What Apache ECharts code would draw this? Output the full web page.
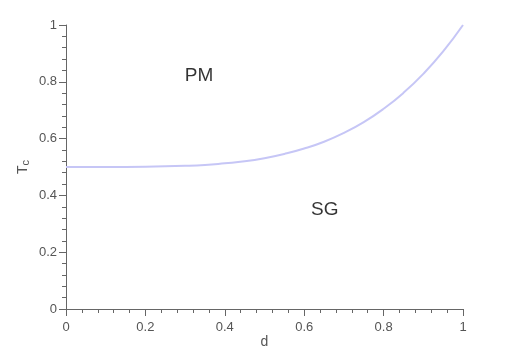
<!DOCTYPE html>
<html>
<head>
<meta charset="UTF-8">
<title>Tc vs d</title>
<style>
  html, body { margin: 0; padding: 0; background: #fff; }
  #chart { width: 513px; height: 349px; }
</style>
</head>
<body>
<div id="chart"></div>
<script src="https://cdn.jsdelivr.net/npm/echarts@6/dist/echarts.min.js"></script>
<script>
// values
var dValues = [0, 0.1, 0.2, 0.3, 0.35, 0.4, 0.45, 0.5, 0.55, 0.6, 0.65, 0.7, 0.75, 0.8, 0.85, 0.9, 0.95, 1];
var tcValues = [0.5, 0.5, 0.501, 0.504, 0.507, 0.513, 0.52, 0.531, 0.546, 0.565, 0.589, 0.62, 0.658, 0.705, 0.761, 0.828, 0.907, 1.0];
var regionLabels = [
  { text: 'PM', d: 0.335, tc: 0.822 },
  { text: 'SG', d: 0.652, tc: 0.349 }
];

var chart = echarts.init(document.getElementById('chart'));
var axisGrey = '#666';
var font = 'Liberation Sans, Arial, sans-serif';

var lineData = dValues.map(function (d, i) { return [d, tcValues[i]]; });

var axisCommon = {
  min: 0,
  max: 1,
  interval: 0.2,
  splitLine: { show: false },
  axisLine: { lineStyle: { color: axisGrey, width: 1 } },
  axisTick: { length: 7, lineStyle: { color: axisGrey } },
  minorTick: { show: true, splitNumber: 5, length: 4, lineStyle: { color: axisGrey } }
};

function tickText(v) { return String(+v.toFixed(1)); }

chart.setOption({
  backgroundColor: '#fff',
  animation: false,
  grid: { left: 66, right: 50, top: 25, bottom: 40, outerBoundsMode: 'none', containLabel: false },
  xAxis: Object.assign({}, axisCommon, {
    type: 'value',
    name: 'd',
    nameLocation: 'middle',
    nameGap: 26,
    nameMoveOverlap: false,
    nameTextStyle: { color: '#555', fontSize: 14, fontFamily: font },
    axisLabel: { color: '#555', fontSize: 13, fontFamily: font, margin: 12, formatter: tickText }
  }),
  yAxis: Object.assign({}, axisCommon, {
    type: 'value',
    name: '{t|T}{c|c}',
    nameLocation: 'middle',
    nameGap: 36,
    nameMoveOverlap: false,
    nameRotate: 90,
    nameTextStyle: {
      rich: {
        t: { color: '#555', fontSize: 14, fontFamily: font },
        c: { color: '#555', fontSize: 11, fontFamily: font, padding: [0, 0, -6, 0] }
      }
    },
    axisLabel: { color: '#555', fontSize: 13, fontFamily: font, margin: 9, formatter: tickText }
  }),
  series: [{
    type: 'line',
    data: lineData,
    smooth: true,
    showSymbol: false,
    lineStyle: { color: '#c6c6f6', width: 2 },
    z: 2
  }, {
    type: 'scatter',
    symbolSize: 0,
    data: regionLabels.map(function (r) { return { value: [r.d, r.tc], name: r.text }; }),
    label: {
      show: true,
      position: 'inside',
      formatter: '{b}',
      color: '#000',
      fontSize: 19,
      fontFamily: font
    },
    silent: true
  }]
});
</script>
</body>
</html>
